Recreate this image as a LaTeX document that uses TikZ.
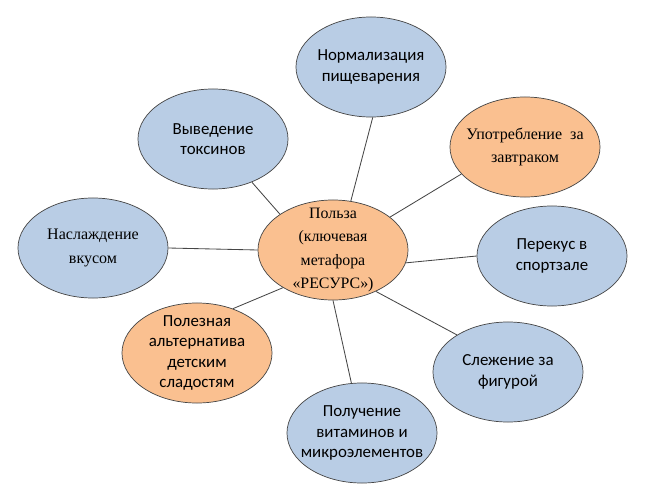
\documentclass[tikz,border=0pt]{standalone}
\usepackage{fontspec}
\setmainfont{Liberation Serif}
\newfontfamily\calib{Carlito}
\usepackage{tikz}
\usetikzlibrary{shapes.geometric}

\definecolor{bluefill}{RGB}{185,205,229}
\definecolor{orangefill}{RGB}{250,192,144}
\definecolor{rimline}{RGB}{70,70,70}

\begin{document}
\begin{tikzpicture}[
    x=0.025cm, y=-0.025cm,
    bubble/.style={
      ellipse,
      draw=rimline,
      line width=0.5pt,
      align=center,
      inner xsep=-0.6cm,
      inner ysep=-0.3cm,
      minimum width=3.75cm,
      minimum height=2.5cm
    },
    bluebub/.style={bubble, fill=bluefill, font=\calib\fontsize{12}{14.5}\selectfont},
    orangebub/.style={bubble, fill=orangefill, font=\calib\fontsize{12}{14.5}\selectfont},
    serifbub/.style={font=\fontsize{11.4}{16.5}\selectfont},
    link/.style={draw=rimline, line width=0.6pt}
  ]
    \useasboundingbox (0,0) rectangle (652,500);

    \node[orangebub, serifbub, font=\fontsize{11.3}{16.4}\selectfont] (hub) at (333,250)
      {Польза\\(ключевая\\метафора\\«РЕСУРС»)};

    \node[bluebub] (norm) at (371,67) {Нормализация\\пищеварения};
    \node[bluebub] (toxin) at (213,139) {Выведение\\токсинов};
    \node[orangebub, serifbub] (breakfast) at (525,147) {Употребление\ \ за\\завтраком};
    \node[bluebub, serifbub] (taste) at (93,248) {Наслаждение\\вкусом};
    \node[bluebub] (gym) at (552,256) {Перекус в\\спортзале};
    \node[orangebub] (sweets) at (197,353) {Полезная\\альтернатива\\детским\\сладостям};
    \node[bluebub] (figure) at (508,372) {Слежение за\\фигурой};
    \node[bluebub] (vitamin) at (362,433) {Получение\\витаминов и\\микроэлементов};

    \draw[link] (hub.70) -- (norm.-88);
    \draw[link] (hub.146) -- (toxin.-48);
    \draw[link] (hub.30) -- (breakfast.203);
    \draw[link] (hub.180) -- (taste.0);
    \draw[link] (hub.-10) -- (gym.180);
    \draw[link] (hub.217) -- (sweets.51);
    \draw[link] (hub.-44) -- (figure.144);
    \draw[link] (hub.-90) -- (vitamin.102);
  \end{tikzpicture}
\end{document}
